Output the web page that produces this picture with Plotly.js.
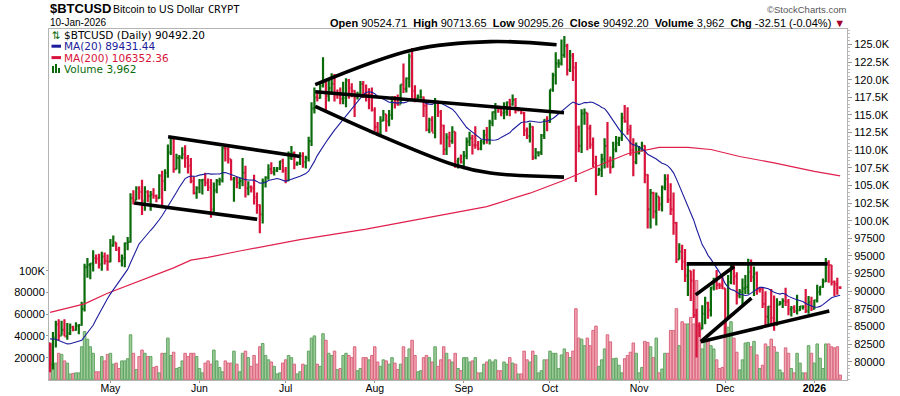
<!DOCTYPE html>
<html><head><meta charset="utf-8">
<script src="https://cdn.plot.ly/plotly-3.0.1.min.js"></script>
<style>html,body{margin:0;padding:0;background:#fff;overflow:hidden}#chart{width:900px;height:396px}</style>
</head><body><div id="chart"></div>
<script>
// ---------------- DATA (prices in thousands of USD, volume in thousands) ----------------
const startDate = '2025-04-10';
const open = [
// Apr 10-30
82.6,79.6,83.4,85.3,83.7,84.5,83.6,84.0,84.9,84.5,85.1,85.2,87.5,93.4,93.7,93.9,94.7,94.6,93.8,94.9,94.3,
// May
94.2,96.5,96.9,95.9,94.3,94.7,96.8,97.0,103.2,102.9,104.6,104.1,102.8,104.1,103.5,103.7,103.5,103.2,106.4,105.6,106.8,109.7,111.7,107.3,108.9,109.0,109.4,108.9,107.8,105.6,103.9,
// Jun
104.6,105.7,105.8,105.4,104.7,101.6,104.3,105.6,105.7,110.3,110.2,108.7,105.9,106.0,105.4,105.6,106.8,104.6,104.8,104.6,103.3,102.2,100.9,105.5,106.1,107.3,106.9,107.1,107.4,108.4,
// Jul
107.1,105.7,108.9,109.6,108.0,108.2,109.2,108.3,108.9,111.3,115.9,117.5,117.4,119.1,119.8,117.7,118.8,119.4,117.9,117.9,117.3,117.4,119.9,118.8,118.4,117.6,117.9,119.4,118.0,117.8,117.8,
// Aug
115.7,113.3,112.5,114.2,115.1,114.1,115.0,117.5,116.7,116.5,119.3,118.7,120.2,123.3,118.4,117.4,117.5,117.5,116.3,112.9,114.3,112.5,116.9,115.4,113.5,110.1,111.8,111.3,112.6,108.4,108.8,
// Sep
108.3,109.2,111.2,111.7,110.7,110.7,110.2,111.2,112.1,111.5,113.9,115.4,116.1,115.9,115.3,115.4,116.8,116.5,117.1,115.7,115.7,115.3,112.8,112.0,113.3,109.0,109.7,109.7,112.1,114.3,
// Oct
114.0,118.6,120.6,122.3,122.3,123.5,124.8,121.4,123.4,121.7,113.2,110.6,115.2,115.3,113.1,110.8,108.2,106.5,107.2,108.7,110.6,108.5,107.6,110.1,111.0,111.7,114.6,114.1,112.9,110.0,108.3,
// Nov
109.6,110.1,110.6,106.5,101.6,103.9,101.3,103.4,102.3,104.7,105.9,103.0,101.6,99.7,94.5,95.6,94.2,92.2,92.9,91.5,86.6,85.1,84.7,86.8,88.3,87.3,90.5,91.3,90.9,90.8,
// Dec
90.4,86.3,91.3,93.5,92.1,89.4,89.9,90.4,90.6,92.7,92.0,92.5,90.3,90.3,88.2,86.4,87.8,86.2,85.5,88.1,88.3,88.6,88.5,87.4,87.6,87.2,87.3,87.8,87.8,87.2,88.4,
// Jan 1-10
87.5,88.7,89.9,90.6,91.4,93.9,93.7,91.3,91.0,90.52
];
const high = [
82.7,84.2,85.8,86.0,85.8,86.0,85.5,85.4,85.1,85.6,85.3,88.5,93.9,94.7,94.0,95.8,95.2,95.3,95.6,95.5,95.2,
97.4,97.9,96.9,96.3,95.2,96.9,97.7,103.9,104.3,104.9,104.9,105.8,104.9,104.3,104.2,104.6,103.7,106.6,107.1,107.3,110.8,111.9,111.8,109.5,109.3,110.4,110.7,109.3,108.9,106.3,104.9,
105.9,105.9,106.8,106.0,105.9,105.4,105.9,106.1,110.5,110.4,110.4,108.7,106.2,106.2,106.1,108.9,107.8,105.6,105.0,106.5,104.0,102.3,106.0,106.3,108.0,108.3,107.6,107.6,108.5,108.8,
107.6,109.8,110.6,109.8,108.4,109.7,109.7,109.2,111.9,116.8,118.9,118.2,119.5,123.2,119.9,120.0,120.9,120.8,118.6,118.9,119.7,120.2,120.1,119.5,118.5,118.3,119.8,119.8,119.3,118.8,118.9,
116.1,114.0,114.8,115.7,115.1,115.7,117.6,117.7,117.9,119.3,122.3,120.3,123.7,124.5,119.2,117.9,118.6,117.6,116.8,114.6,114.8,117.4,117.0,115.7,113.6,112.4,112.6,113.4,112.6,108.9,109.4,
109.9,111.8,112.6,112.2,113.4,111.3,111.5,112.9,113.3,114.3,115.5,116.7,116.3,116.1,116.8,116.9,117.3,117.9,117.4,116.1,115.9,115.4,113.2,113.9,113.4,110.3,109.8,112.3,114.4,114.8,
118.6,121.0,123.9,122.9,125.7,126.2,125.1,124.2,123.8,122.5,113.5,115.8,115.9,115.3,113.6,111.8,109.2,107.5,109.5,111.7,114.0,109.1,111.2,112.0,111.9,115.3,116.4,116.1,113.6,111.7,111.1,
110.6,111.2,110.7,106.6,104.5,104.1,104.0,103.4,105.0,106.6,106.6,105.3,104.0,99.8,96.8,96.6,96.0,93.8,92.9,93.1,87.5,85.6,88.0,89.2,88.5,90.6,91.9,93.0,91.2,92.0,
90.4,92.3,94.1,94.0,92.7,90.3,91.8,92.3,94.6,94.5,93.5,92.8,90.6,90.5,90.0,87.9,90.3,89.4,89.0,88.6,89.0,90.5,88.9,87.9,88.0,89.5,87.9,88.0,90.3,89.3,89.2,
88.8,90.9,90.7,91.8,94.7,94.4,93.7,91.5,91.9,90.71
];
const low = [
78.5,78.9,82.0,83.0,83.7,83.6,83.1,83.8,84.3,84.4,83.9,85.1,87.1,91.9,91.7,92.8,93.9,93.2,92.9,93.8,92.9,
94.1,96.3,95.7,94.1,93.5,93.4,95.8,96.9,102.3,102.9,103.0,100.8,101.4,102.6,101.4,103.1,102.6,103.1,102.0,104.2,106.1,109.3,106.8,107.3,106.7,108.7,107.5,106.7,105.3,103.7,103.1,
103.9,103.7,104.9,104.2,100.4,101.1,103.9,105.0,105.4,108.4,108.1,105.7,102.7,104.6,104.5,104.9,103.3,103.6,104.0,102.3,101.0,98.2,99.6,104.7,105.8,106.6,106.4,106.9,107.2,106.8,
105.3,105.6,108.6,107.3,107.8,107.9,107.5,107.4,108.4,110.6,115.2,116.9,117.3,118.9,115.7,116.9,117.9,116.9,117.3,116.5,116.5,116.1,117.3,117.5,114.7,117.2,117.8,117.4,116.9,115.8,115.5,
112.7,112.0,111.9,114.1,112.6,113.4,114.3,115.9,116.3,116.5,118.1,118.2,118.9,117.2,116.8,117.2,117.3,114.7,112.7,112.4,112.6,111.7,114.7,110.8,109.3,109.3,110.4,110.9,107.5,107.4,108.1,
107.3,108.7,110.6,109.4,110.2,110.0,110.0,110.8,110.9,110.8,113.4,114.3,115.3,114.8,114.4,114.9,114.8,116.3,115.2,115.5,115.1,112.0,111.6,111.1,108.6,108.7,109.1,109.3,111.6,112.7,
113.9,118.3,119.3,121.7,122.0,123.1,120.6,121.1,119.8,105.5,109.7,109.6,113.6,110.0,110.2,107.6,103.6,106.4,106.2,107.4,107.5,106.7,107.5,109.7,110.6,111.3,113.9,112.2,109.2,106.3,108.0,
109.4,109.8,105.3,98.9,98.9,100.3,99.3,101.4,101.3,104.3,102.5,100.8,98.0,94.0,94.5,93.0,91.3,89.3,88.6,86.2,80.6,83.5,84.6,85.3,86.1,86.4,90.1,90.2,90.3,90.3,
83.9,86.2,91.0,90.9,88.1,89.0,87.8,89.6,89.6,91.3,89.3,89.5,89.8,87.6,85.1,85.3,85.3,84.4,85.1,88.0,87.6,87.9,86.6,86.4,86.9,86.7,87.2,87.4,86.9,86.8,87.2,
87.4,88.4,89.4,90.5,91.3,91.2,90.8,89.3,89.5,90.30
];
const close = [
79.6,83.4,85.3,83.7,84.5,83.6,84.0,84.9,84.5,85.1,85.2,87.5,93.4,93.7,93.9,94.7,94.6,93.8,94.9,94.3,94.2,
96.5,96.9,95.9,94.3,94.7,96.8,97.0,103.2,102.9,104.6,104.1,102.8,104.1,103.5,103.7,103.5,103.2,106.4,105.6,106.8,109.7,111.7,107.3,108.9,109.0,109.4,108.9,107.8,105.6,103.9,104.6,
105.7,105.8,105.4,104.7,101.6,104.3,105.6,105.7,110.3,110.2,108.7,105.9,106.0,105.4,105.6,106.8,104.6,104.8,104.6,103.3,102.2,100.9,105.5,106.1,107.3,106.9,107.1,107.4,108.4,107.1,
105.7,108.9,109.6,108.0,108.2,109.2,108.3,108.9,111.3,115.9,117.5,117.4,119.1,119.8,117.7,118.8,119.4,117.9,117.9,117.3,117.4,119.9,118.8,118.4,117.6,117.9,119.4,118.0,117.8,117.8,115.7,
113.3,112.5,114.2,115.1,114.1,115.0,117.5,116.7,116.5,119.3,118.7,120.2,123.3,118.4,117.4,117.5,117.5,116.3,112.9,114.3,112.5,116.9,115.4,113.5,110.1,111.8,111.3,112.6,108.4,108.8,108.3,
109.2,111.2,111.7,110.7,110.7,110.2,111.2,112.1,111.5,113.9,115.4,116.1,115.9,115.3,115.4,116.8,116.5,117.1,115.7,115.7,115.3,112.8,112.0,113.3,109.0,109.7,109.7,112.1,114.3,114.0,
118.6,120.6,122.3,122.3,123.5,124.8,121.4,123.4,121.7,113.2,110.6,115.2,115.3,113.1,110.8,108.2,106.5,107.2,108.7,110.6,108.5,107.6,110.1,111.0,111.7,114.6,114.1,112.9,110.0,108.3,109.6,
110.1,110.6,106.5,101.6,103.9,101.3,103.4,102.3,104.7,105.9,103.0,101.6,99.7,94.5,95.6,94.2,92.2,92.9,91.5,86.6,85.1,84.7,86.8,88.3,87.3,90.5,91.3,90.9,90.8,90.4,
86.3,91.3,93.5,92.1,89.4,89.9,90.4,90.6,92.7,92.0,92.5,90.3,90.3,88.2,86.4,87.8,86.2,85.5,88.1,88.3,88.6,88.5,87.4,87.6,87.2,87.3,87.8,87.8,87.2,88.4,87.5,
88.7,89.9,90.6,91.4,93.9,93.7,91.3,91.0,90.52,90.49
];
const volume = [
33,15,15,24,23,17,15,5,5.5,6,6,30,44,37,30,24,7,7,21,17,23,
24,14,15,10,17,17,19,41,24,9,21,27,24,21,21,11,12,6,24,24,38,22,25,10,11,17,24,21,24,24,21,
10,6,15,17,14,27,17,11,7,17,15,15,26,14,7,24,26,20,12,22,14,30,33,22,18,16,12,5,6,15,
18,22,20,14,5,7,14,13,26,38,40,14,12,42,36,24,22,26,9,10,22,24,22,20,30,8,10,20,20,18,22,
30,16,12,18,17,14,20,15,9,14,30,20,28,36,22,7,8,20,22,20,16,30,12,18,30,24,18,16,24,10,8,
20,20,16,17,20,6,6,14,16,18,16,18,8,8,16,14,20,15,14,5,5,26,18,16,26,22,6,8,18,18,
26,24,24,10,22.5,28,24.6,20,26,65,38,37,31,38,31,45,49,12,18,28,41,34.5,19,19.5,13,6,19,22,25,33.5,24,
6,11,35,34,30,20,38,6,9.5,24,24,45,45,65,31,53,51,51,57,51,91,50,28,36,36,31,28,18,10,11,
53,48,53,38,25,8.7,18,33.5,34,30,35,22.5,10,13,32.6,30,37,30,25,8.7,6,29,24,10,6,24,15,6,6,31,24,
15,32.6,19.5,10,32.6,32.6,30,29,30,3.962
];
// closes of the 19 days before the first bar (for the 20-day average)
const priorCloses = [83.8,86.1,87.5,87.4,86.9,87.2,84.4,82.6,82.4,82.5,85.2,82.5,83.1,83.8,83.5,78.2,79.2,76.3,82.6];
// 200-day moving average
const ma200Dates = ['2025-04-10','2025-04-22','2025-04-30','2025-05-11','2025-05-23','2025-05-29','2025-06-04','2025-06-15','2025-07-06','2025-07-29','2025-08-12','2025-09-09','2025-09-24','2025-10-05','2025-10-16','2025-10-28','2025-11-08','2025-11-18','2025-11-26','2025-12-06','2025-12-18','2026-01-01','2026-01-10'];
const ma200Values = [87.0,88.2,89.7,91.4,93.3,94.4,94.8,95.7,97.3,98.8,99.9,102.0,103.9,105.6,107.5,109.5,110.4,110.4,110.1,109.1,108.2,107.0,106.35];
// trendlines drawn on the chart
const flagTopX = ['2025-05-21 02:00','2025-07-06 02:00'], flagTopY = [111.9,109.1];
const flagBotX = ['2025-05-09 07:00','2025-06-21 02:00'], flagBotY = [102.5,100.2];
const arcTopX = ['2025-07-11 07:00','2025-08-14 12:00','2025-09-10 07:00','2025-10-03 07:00'], arcTopY = [119.3,124.25,125.4,124.96];
const midLineX = ['2025-07-11 07:00','2025-10-05 21:00'], midLineY = [118.3,115.3];
const arcBotX = ['2025-07-11 07:00','2025-07-31 12:00','2025-08-28 12:00','2025-09-10 07:00','2025-10-05 21:00'], arcBotY = [116.2,112.5,107.93,106.75,106.18];
const resistX = ['2025-11-17 14:00','2026-01-05 15:00'], resistY = [93.87,93.87];
const wedgeUpX = ['2025-11-20 17:00','2025-12-04 02:00'], wedgeUpY = [89.47,93.49];
const wedgeLoX = ['2025-11-22 12:00','2025-12-10 03:00'], wedgeLoY = [82.84,89.0];
const baseX = ['2025-11-22 12:00','2026-01-06 05:00'], baseY = [82.84,87.2];
// axis ticks
const monthTicks = ['2025-05-01','2025-06-01','2025-07-01','2025-08-01','2025-09-01','2025-10-01','2025-11-01','2025-12-01','2026-01-01'];
const monthLabels = ['May','Jun','Jul','Aug','Sep','Oct','Nov','Dec','<b>2026</b>'];
const priceTicks = [80,82.5,85,87.5,90,92.5,95,97.5,100,102.5,105,107.5,110,112.5,115,117.5,120,122.5,125];
const priceTickLabels = ['80000','82500','85000','87500','90000','92500','95000','97500','100.0K','102.5K','105.0K','107.5K','110.0K','112.5K','115.0K','117.5K','120.0K','122.5K','125.0K'];
const volumeTicks = [20,40,60,80,100];
const volumeTickLabels = ['20000','40000','60000','80000','100K'];

// ---------------- BUILD ----------------
const dates = [];
const t0 = Date.parse(startDate + 'T00:00:00Z');
for (let i = 0; i < close.length; i++) dates.push(new Date(t0 + i * 86400000).toISOString().slice(0, 10));
const allCloses = priorCloses.concat(close);
const ma20 = close.map((c, i) => { let s = 0; for (let k = i; k < i + 20; k++) s += allCloses[k]; return s / 20; });
const upDay = close.map((c, i) => c >= open[i]);
const GREEN = '#0b6b0b', RED = '#d8143c';
const volFill = upDay.map(u => u ? '#9ccb9b' : '#f0a3b1');
const volLine = upDay.map(u => u ? '#62a562' : '#d9677e');

const L = 49, R = 847, T = 29, B = 380;
const px = x => (x - L) / (R - L);
const py = y => (B - y) / (B - T);

function tl(x, y, shape) {
  return {type: 'scatter', mode: 'lines', x: x, y: y, yaxis: 'y2', hoverinfo: 'skip', showlegend: false,
    line: {color: '#000', width: 3.6, shape: shape || 'linear', smoothing: 1}};
}

const traces = [
  {type: 'bar', x: dates, y: volume, yaxis: 'y', hoverinfo: 'skip', showlegend: false,
   marker: {color: volFill, line: {color: volLine, width: 1}}},
  {type: 'scatter', mode: 'lines', x: ma200Dates, y: ma200Values, yaxis: 'y2', hoverinfo: 'skip', showlegend: false,
   line: {color: '#e0204c', width: 1.2}},
  {type: 'ohlc', x: dates, open: open, high: high, low: low, close: close, yaxis: 'y2', hoverinfo: 'skip', showlegend: false,
   tickwidth: 0.45, increasing: {line: {color: GREEN, width: 2.2}}, decreasing: {line: {color: RED, width: 2.2}}},
  {type: 'scatter', mode: 'lines', x: dates, y: ma20, yaxis: 'y2', hoverinfo: 'skip', showlegend: false,
   line: {color: '#1c1c9c', width: 1.1}},
  tl(flagTopX, flagTopY), tl(flagBotX, flagBotY),
  tl(arcTopX, arcTopY, 'spline'), tl(midLineX, midLineY), tl(arcBotX, arcBotY, 'spline'),
  tl(resistX, resistY), tl(wedgeUpX, wedgeUpY), tl(wedgeLoX, wedgeLoY), tl(baseX, baseY)
];

const AX = '#b4b4b4';
const tickFont = {family: 'Liberation Sans, Arial, sans-serif', size: 11, color: '#000'};
const hdr = 'Liberation Sans, Arial, sans-serif';
const leg = 'DejaVu Sans, Verdana, sans-serif';
function ann(text, x, y, anchor, font) {
  return {text: text, x: px(x), y: py(y), xref: 'paper', yref: 'paper', xanchor: anchor, yanchor: 'middle',
          showarrow: false, font: font, borderpad: 0};
}
const annotations = [
  ann('<b>$BTCUSD</b>', 49, 8.5, 'left', {family: hdr, size: 13, color: '#000'}),
  ann('Bitcoin to US Dollar', 112, 9.3, 'left', {family: hdr, size: 10.5, color: '#000'}),
  ann('CRYPT', 207, 9.3, 'left', {family: 'DejaVu Sans Mono, monospace', size: 10.5, color: '#000'}),
  ann('10-Jan-2026', 49, 22.6, 'left', {family: hdr, size: 10, color: '#000'}),
  ann('©StockCharts.com', 847, 9.5, 'right', {family: hdr, size: 9.5, color: '#555'}),
  ann('<b>Open</b> 90524.71  <b>High</b> 90713.65  <b>Low</b> 90295.26  <b>Close</b> 90492.20  <b>Volume</b> 3,962  <b>Chg</b> -32.51 (-0.04%) <span style="color:#a3002c">▼</span>',
      846, 22.6, 'right', {family: hdr, size: 11, color: '#000'}),
  ann('⇅', 51, 35, 'left', {family: leg, size: 10.5, color: GREEN}),
  ann('$BTCUSD (Daily) 90492.20', 63, 34.8, 'left', {family: leg, size: 10.5, color: '#000'}),
  ann('MA(20) 89431.44', 63, 46.2, 'left', {family: leg, size: 10.5, color: '#1c1c9c'}),
  ann('MA(200) 106352.36', 63, 57.6, 'left', {family: leg, size: 10.5, color: '#d8143c'}),
  ann('Volume 3,962', 63, 69, 'left', {family: leg, size: 10.5, color: GREEN})
];
const shapes = [
  {type: 'line', xref: 'paper', yref: 'paper', x0: px(51.5), x1: px(61), y0: py(46.2), y1: py(46.2), line: {color: '#1c1c9c', width: 3}},
  {type: 'line', xref: 'paper', yref: 'paper', x0: px(51.5), x1: px(61), y0: py(57.6), y1: py(57.6), line: {color: '#d8143c', width: 3}},
  {type: 'rect', xref: 'paper', yref: 'paper', x0: px(52), x1: px(54), y0: py(73), y1: py(66), fillcolor: GREEN, line: {width: 0}},
  {type: 'rect', xref: 'paper', yref: 'paper', x0: px(55), x1: px(57), y0: py(73), y1: py(64), fillcolor: GREEN, line: {width: 0}},
  {type: 'rect', xref: 'paper', yref: 'paper', x0: px(58), x1: px(60), y0: py(73), y1: py(68), fillcolor: GREEN, line: {width: 0}}
];

const layout = {
  width: 900, height: 396, autosize: false,
  margin: {l: L, r: 900 - R, t: T, b: 396 - B, pad: 0},
  paper_bgcolor: '#fff', plot_bgcolor: '#fff',
  showlegend: false, bargap: 0.12, dragmode: false,
  font: tickFont,
  xaxis: {type: 'date', range: ['2025-04-09 15:00', '2026-01-12 09:00'], rangeslider: {visible: false},
    tickmode: 'array', tickvals: monthTicks, ticktext: monthLabels, ticks: 'outside', ticklen: 2, tickcolor: '#999',
    ticklabelstandoff: -4,
    tickfont: {family: hdr, size: 10.5, color: '#000'},
    showline: true, linecolor: AX, linewidth: 1, mirror: true, showgrid: false, zeroline: false, fixedrange: true},
  yaxis: {range: [-0.55, 322.2], side: 'left', tickmode: 'array', tickvals: volumeTicks, ticktext: volumeTickLabels,
    ticks: 'outside', ticklen: 2, tickcolor: '#999', tickfont: tickFont, ticklabelstandoff: -1,
    showline: true, linecolor: AX, linewidth: 1, showgrid: false, zeroline: false, fixedrange: true},
  yaxis2: {range: [77.40, 127.19], overlaying: 'y', side: 'right', tickmode: 'array', tickvals: priceTicks, ticktext: priceTickLabels,
    ticks: 'outside', ticklen: 4, tickcolor: '#999', tickfont: tickFont,
    minor: {tickmode: 'linear', tick0: 0, dtick: 0.5, ticks: 'outside', ticklen: 2, tickcolor: '#bbb'},
    showline: true, linecolor: AX, linewidth: 1, showgrid: false, zeroline: false, fixedrange: true},
  annotations: annotations, shapes: shapes
};
Plotly.newPlot('chart', traces, layout, {staticPlot: true, displayModeBar: false});
</script>
</body></html>
